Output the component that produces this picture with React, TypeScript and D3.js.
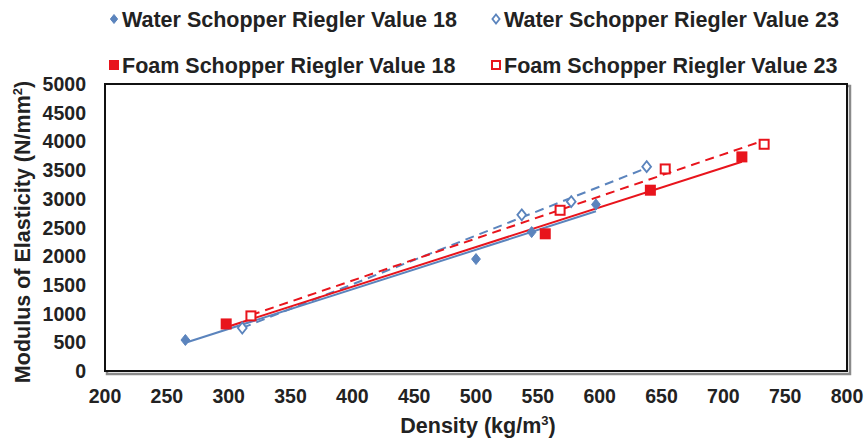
import React from "react";
import * as d3 from "d3";

// Density (kg/m³) and modulus of elasticity (N/mm²) per series
const water18Density = [265, 500, 545, 597];
const water18Modulus = [540, 1950, 2420, 2900];
const water23Density = [311, 537, 577, 638];
const water23Modulus = [750, 2720, 2950, 3560];
const foam18Density = [298, 556, 641, 715];
const foam18Modulus = [820, 2390, 3150, 3730];
const foam23Density = [318, 568, 653, 733];
const foam23Modulus = [960, 2800, 3520, 3950];

const xTicks = [200, 250, 300, 350, 400, 450, 500, 550, 600, 650, 700, 750, 800];
const yTicks = [0, 500, 1000, 1500, 2000, 2500, 3000, 3500, 4000, 4500, 5000];

const BLUE = "#5b84bd";
const RED = "#e8141c";

type Series = {
  name: string;
  xs: number[];
  ys: number[];
  color: string;
  shape: "diamond" | "square";
  hollow: boolean;
  dashed: boolean;
};

const series: Series[] = [
  { name: "Water Schopper Riegler Value 18", xs: water18Density, ys: water18Modulus, color: BLUE, shape: "diamond", hollow: false, dashed: false },
  { name: "Water Schopper Riegler Value 23", xs: water23Density, ys: water23Modulus, color: BLUE, shape: "diamond", hollow: true, dashed: true },
  { name: "Foam Schopper Riegler Value 18", xs: foam18Density, ys: foam18Modulus, color: RED, shape: "square", hollow: false, dashed: false },
  { name: "Foam Schopper Riegler Value 23", xs: foam23Density, ys: foam23Modulus, color: RED, shape: "square", hollow: true, dashed: true },
];

function linearFit(xs: number[], ys: number[]) {
  const mx = d3.mean(xs)!;
  const my = d3.mean(ys)!;
  let sxy = 0;
  let sxx = 0;
  xs.forEach((x, i) => {
    sxy += (x - mx) * (ys[i] - my);
    sxx += (x - mx) * (x - mx);
  });
  const slope = sxy / sxx;
  return { slope, intercept: my - slope * mx };
}

function Marker({ s, cx, cy, size }: { s: Series; cx: number; cy: number; size: number }) {
  if (s.shape === "diamond") {
    const r = size / 2;
    const d = `M${cx},${cy - r}L${cx + r * 0.8},${cy}L${cx},${cy + r}L${cx - r * 0.8},${cy}Z`;
    return s.hollow ? (
      <path d={d} fill="white" stroke={s.color} strokeWidth={1.8} />
    ) : (
      <path d={d} fill={s.color} stroke={s.color} strokeWidth={1} />
    );
  }
  const h = size / 2;
  return s.hollow ? (
    <rect x={cx - h + 1} y={cy - h + 1} width={size - 2} height={size - 2} fill="white" stroke={s.color} strokeWidth={2} />
  ) : (
    <rect x={cx - h} y={cy - h} width={size} height={size} fill={s.color} />
  );
}

export default function App() {
  const W = 867;
  const H = 440;
  const left = 105;
  const right = 847;
  const top = 84;
  const bottom = 371;

  const x = d3.scaleLinear().domain([200, 800]).range([left, right]);
  const y = d3.scaleLinear().domain([0, 5000]).range([bottom, top]);

  const font = "Arial, 'Liberation Sans', sans-serif";
  const ink = "#222";

  const legendItems = [
    { s: series[0], mx: 114, tx: 122, ty: 19 },
    { s: series[1], mx: 496, tx: 504, ty: 19 },
    { s: series[2], mx: 114, tx: 122, ty: 65 },
    { s: series[3], mx: 496, tx: 504, ty: 65 },
  ];

  return (
    <svg width={W} height={H} style={{ position: "absolute", left: 0, top: 0, background: "white" }}>
      <rect x={0} y={0} width={W} height={H} fill="white" />

      {/* plot frame with soft shadow */}
      <rect x={left + 2} y={top + 2} width={right - left + 1} height={bottom - top + 1} fill="none" stroke="#8a8a8a" strokeWidth={2.5} />
      <rect x={left} y={top} width={right - left} height={bottom - top} fill="white" stroke="#111" strokeWidth={2} />

      {/* trendlines */}
      {series.map((s, i) => {
        const { slope, intercept } = linearFit(s.xs, s.ys);
        const x0 = d3.min(s.xs)!;
        const x1 = d3.max(s.xs)!;
        return (
          <line
            key={"t" + i}
            x1={x(x0)}
            y1={y(slope * x0 + intercept)}
            x2={x(x1)}
            y2={y(slope * x1 + intercept)}
            stroke={s.color}
            strokeWidth={2}
            strokeDasharray={s.dashed ? "9,6" : undefined}
          />
        );
      })}

      {/* data points */}
      {series.map((s, i) =>
        s.xs.map((d, j) => (
          <Marker key={`p${i}-${j}`} s={s} cx={x(d)} cy={y(s.ys[j])} size={11} />
        ))
      )}

      {/* x axis labels */}
      {xTicks.map((t) => (
        <text key={"x" + t} x={x(t)} y={403} textAnchor="middle" fontFamily={font} fontWeight="bold" fontSize={19.5} fill={ink}>
          {t}
        </text>
      ))}
      {/* y axis labels */}
      {yTicks.map((t) => (
        <text key={"y" + t} x={86} y={y(t) + 7} textAnchor="end" fontFamily={font} fontWeight="bold" fontSize={19.5} fill={ink}>
          {t}
        </text>
      ))}

      <text x={478} y={433} textAnchor="middle" fontFamily={font} fontWeight="bold" fontSize={21.5} fill={ink}>
        Density (kg/m<tspan dy={-8} fontSize={13}>3</tspan><tspan dy={8}>)</tspan>
      </text>
      <text
        transform={`translate(30,232) rotate(-90)`}
        textAnchor="middle"
        fontFamily={font}
        fontWeight="bold"
        fontSize={21.5}
        fill={ink}
      >
        Modulus of Elasticity (N/mm<tspan dy={-8} fontSize={13}>2</tspan><tspan dy={8}>)</tspan>
      </text>

      {/* legend */}
      {legendItems.map((it, i) => (
        <g key={"l" + i}>
          <Marker s={it.s} cx={it.mx} cy={it.ty} size={it.s.shape === "diamond" ? 9 : 10} />
          <text x={it.tx} y={it.ty + 8} fontFamily={font} fontWeight="bold" fontSize={21.5} fill={ink}>
            {it.s.name}
          </text>
        </g>
      ))}
    </svg>
  );
}
